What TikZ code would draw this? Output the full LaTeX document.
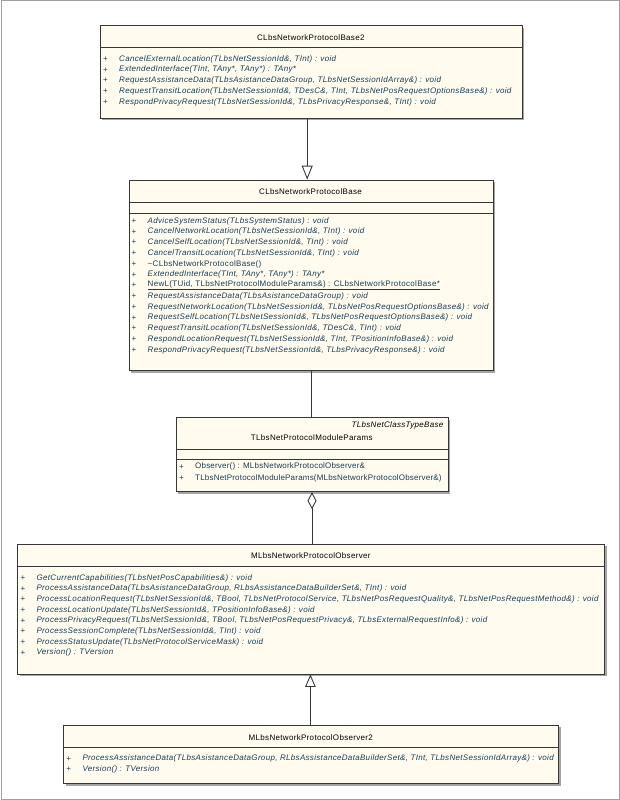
\documentclass[tikz,border=0pt]{standalone}
\usepackage{fontspec}
\newfontfamily\umlfont[LetterSpace=4]{Liberation Sans}
\newfontfamily\umltightfont[LetterSpace=2.5]{Liberation Sans}
\usetikzlibrary{arrows.meta,shadows}
\definecolor{boxfill}{RGB}{255,251,239}
\definecolor{mtext}{RGB}{20,62,86}
\definecolor{boxline}{RGB}{55,55,55}
\definecolor{shadowc}{RGB}{165,165,165}
\definecolor{framec}{RGB}{160,160,160}
\tikzset{
  umlbox/.style={draw=boxline, line width=0.9pt, fill=boxfill, anchor=north west, inner sep=0pt,
    drop shadow={shadow xshift=2pt, shadow yshift=-2pt, fill=shadowc, opacity=1}},
  umltitle/.style={font=\umlfont\fontsize{8}{10}\selectfont, text=black, anchor=center, inner sep=0pt},
  stereo/.style={font=\umlfont\itshape\fontsize{8}{10}\selectfont, text=black, anchor=east, inner sep=0pt},
  plussign/.style={font=\umlfont\fontsize{8}{10}\selectfont, text=mtext, anchor=center, inner sep=0pt},
  methit/.style={font=\umlfont\itshape\fontsize{8}{10}\selectfont, text=mtext, anchor=west, inner sep=0pt},
  methup/.style={font=\umlfont\fontsize{8}{10}\selectfont, text=mtext, anchor=west, inner sep=0pt},
  methtight/.style={font=\umltightfont\fontsize{8}{10}\selectfont, text=mtext, anchor=west, inner sep=0pt},
  sepline/.style={draw=boxline, line width=0.8pt},
  conn/.style={draw=boxline, line width=0.9pt},
}
% #1 name, #2 box left x, #3 y, #4 style, #5 text
\newcommand\mrow[5]{%
  \node[plussign] (#1p) at (#2pt+5.5pt,-#3pt) {+};
  \node[#4] (#1) at (#2pt+19pt,-#3pt) {#5};}
\begin{document}
\begin{tikzpicture}[x=1pt,y=1pt]
\useasboundingbox (0,0) rectangle (620,-800);
\draw[framec, line width=1pt] (1,-1) rectangle (619,-799);

% ---------- Box 1 ----------
\node[umlbox, minimum width=421.7pt, minimum height=92pt] (b1) at (100,-25.5) {};
\node[umltitle] (t1) at (310.85,-37.5) {CLbsNetworkProtocolBase2};
\draw[sepline] (100,-47.4) -- (521.7,-47.4);
\mrow{a1}{100}{59.2}{methit}{CancelExternalLocation(TLbsNetSessionId\&, TInt) : void}
\mrow{a2}{100}{69.9}{methit}{ExtendedInterface(TInt, TAny*, TAny*) : TAny*}
\mrow{a3}{100}{80.6}{methit}{RequestAssistanceData(TLbsAsistanceDataGroup, TLbsNetSessionIdArray\&) : void}
\mrow{a4}{100}{91.3}{methit}{RequestTransitLocation(TLbsNetSessionId\&, TDesC\&, TInt, TLbsNetPosRequestOptionsBase\&) : void}
\mrow{a5}{100}{102.0}{methit}{RespondPrivacyRequest(TLbsNetSessionId\&, TLbsPrivacyResponse\&, TInt) : void}

% ---------- Box 2 ----------
\node[umlbox, minimum width=364pt, minimum height=190.8pt] (b2) at (128.5,-179.6) {};
\node[umltitle] (t2) at (310.5,-191.5) {CLbsNetworkProtocolBase};
\draw[sepline] (128.5,-202.3) -- (492.5,-202.3);
\draw[sepline] (128.5,-213.2) -- (492.5,-213.2);
\mrow{c1}{128.5}{221.0}{methit}{AdviceSystemStatus(TLbsSystemStatus) : void}
\mrow{c2}{128.5}{231.75}{methit}{CancelNetworkLocation(TLbsNetSessionId\&, TInt) : void}
\mrow{c3}{128.5}{242.5}{methit}{CancelSelfLocation(TLbsNetSessionId\&, TInt) : void}
\mrow{c4}{128.5}{253.25}{methit}{CancelTransitLocation(TLbsNetSessionId\&, TInt) : void}
\mrow{c5}{128.5}{264.0}{methup}{\textasciitilde CLbsNetworkProtocolBase()}
\mrow{c6}{128.5}{274.75}{methit}{ExtendedInterface(TInt, TAny*, TAny*) : TAny*}
\mrow{c7}{128.5}{285.5}{methup}{\underline{NewL(TUid, TLbsNetProtocolModuleParams\&) : CLbsNetworkProtocolBase*}}
\mrow{c8}{128.5}{296.25}{methit}{RequestAssistanceData(TLbsAsistanceDataGroup) : void}
\mrow{c9}{128.5}{307.0}{methit}{RequestNetworkLocation(TLbsNetSessionId\&, TLbsNetPosRequestOptionsBase\&) : void}
\mrow{c10}{128.5}{317.75}{methit}{RequestSelfLocation(TLbsNetSessionId\&, TLbsNetPosRequestOptionsBase\&) : void}
\mrow{c11}{128.5}{328.5}{methit}{RequestTransitLocation(TLbsNetSessionId\&, TDesC\&, TInt) : void}
\mrow{c12}{128.5}{339.25}{methit}{RespondLocationRequest(TLbsNetSessionId\&, TInt, TPositionInfoBase\&) : void}
\mrow{c13}{128.5}{350.0}{methit}{RespondPrivacyRequest(TLbsNetSessionId\&, TLbsPrivacyResponse\&) : void}

% ---------- Box 3 ----------
\node[umlbox, minimum width=271.6pt, minimum height=74pt] (b3) at (176,-417.3) {};
\node[stereo] (s3) at (443.6,-425) {TLbsNetClassTypeBase};
\node[umltitle] (t3) at (311.8,-437.8) {TLbsNetProtocolModuleParams};
\draw[sepline] (176,-449) -- (447.6,-449);
\draw[sepline] (176,-459.7) -- (447.6,-459.7);
\mrow{d1}{176}{466.8}{methtight}{Observer() : MLbsNetworkProtocolObserver\&}
\mrow{d2}{176}{478.0}{methtight}{TLbsNetProtocolModuleParams(MLbsNetworkProtocolObserver\&)}

% ---------- Box 4 ----------
\node[umlbox, minimum width=586.8pt, minimum height=129.6pt] (b4) at (17.4,-543.9) {};
\node[umltitle] (t4) at (310.8,-556) {MLbsNetworkProtocolObserver};
\draw[sepline] (17.4,-566.3) -- (604.2,-566.3);
\mrow{e1}{17.4}{578.0}{methit}{GetCurrentCapabilities(TLbsNetPosCapabilities\&) : void}
\mrow{e2}{17.4}{588.7}{methit}{ProcessAssistanceData(TLbsAsistanceDataGroup, RLbsAssistanceDataBuilderSet\&, TInt) : void}
\mrow{e3}{17.4}{599.4}{methit}{ProcessLocationRequest(TLbsNetSessionId\&, TBool, TLbsNetProtocolService, TLbsNetPosRequestQuality\&, TLbsNetPosRequestMethod\&) : void}
\mrow{e4}{17.4}{610.1}{methit}{ProcessLocationUpdate(TLbsNetSessionId\&, TPositionInfoBase\&) : void}
\mrow{e5}{17.4}{620.8}{methit}{ProcessPrivacyRequest(TLbsNetSessionId\&, TBool, TLbsNetPosRequestPrivacy\&, TLbsExternalRequestInfo\&) : void}
\mrow{e6}{17.4}{631.5}{methit}{ProcessSessionComplete(TLbsNetSessionId\&, TInt) : void}
\mrow{e7}{17.4}{642.2}{methit}{ProcessStatusUpdate(TLbsNetProtocolServiceMask) : void}
\mrow{e8}{17.4}{652.9}{methit}{Version() : TVersion}

% ---------- Box 5 ----------
\node[umlbox, minimum width=495pt, minimum height=58.7pt] (b5) at (63.3,-724.5) {};
\node[umltitle] (t5) at (310.8,-737.2) {MLbsNetworkProtocolObserver2};
\draw[sepline] (63.3,-747.4) -- (558.3,-747.4);
\mrow{f1}{63.3}{758.7}{methit}{ProcessAssistanceData(TLbsAsistanceDataGroup, RLbsAssistanceDataBuilderSet\&, TInt, TLbsNetSessionIdArray\&) : void}
\mrow{f2}{63.3}{769.4}{methit}{Version() : TVersion}

% ---------- Connectors ----------
\coordinate (x1) at (307.2,0);
\coordinate (x2) at (311.2,0);
\coordinate (x3) at (312,0);
\coordinate (x4) at (310.4,0);
\draw[conn, -{Triangle[open,width=11pt,length=14pt]}] (b1.south -| x1) -- (b2.north -| x1);
\draw[conn] (b2.south -| x2) -- (b3.north -| x2);
\draw[conn, -{Diamond[open,width=9pt,length=17pt]}] (b4.north -| x3) -- (b3.south -| x3);
\draw[conn, -{Triangle[open,width=10.5pt,length=12.5pt]}] (b5.north -| x4) -- (b4.south -| x4);
\end{tikzpicture}
\end{document}
